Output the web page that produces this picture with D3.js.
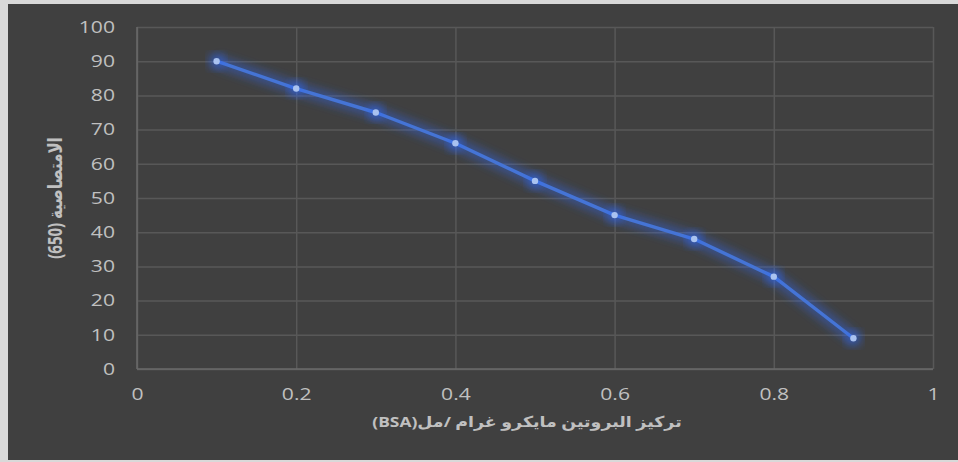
<!DOCTYPE html>
<html>
<head>
<meta charset="utf-8">
<script src="https://cdn.jsdelivr.net/npm/d3@7"></script>
<style>
  html, body { margin: 0; padding: 0; background: #d9d9d9; }
  svg { display: block; }
</style>
</head>
<body>
<svg id="chart" width="958" height="462"></svg>
<script>
// Protein concentration (µg/ml BSA) vs absorbance readings
const concentrations = [0.1, 0.2, 0.3, 0.4, 0.5, 0.6, 0.7, 0.8, 0.9];
const absorbance = [90, 82, 75, 66, 55, 45, 38, 27, 9];
const xTicks = [0, 0.2, 0.4, 0.6, 0.8, 1];
const yTicks = [0, 10, 20, 30, 40, 50, 60, 70, 80, 90, 100];
const xTitle = "تركيز البروتين مايكرو غرام /مل(BSA)";
const yTitle = "الامتصاصية (650)";

const W = 958, H = 462;
const svg = d3.select("#chart");

// chart background panel
svg.append("rect").attr("x", 0).attr("y", 0).attr("width", W).attr("height", H).attr("fill", "#d9d9d9");
svg.append("rect").attr("x", 8).attr("y", 4).attr("width", W - 8).attr("height", 456).attr("fill", "#404040");

const plot = { left: 137, right: 933, top: 27, bottom: 369 };
const x = d3.scaleLinear().domain([0, 1]).range([plot.left, plot.right]);
const y = d3.scaleLinear().domain([0, 100]).range([plot.bottom, plot.top]);

const defs = svg.append("defs");
const glow = defs.append("filter").attr("id", "glow")
  .attr("x", "-20%").attr("y", "-20%").attr("width", "140%").attr("height", "140%");
glow.append("feGaussianBlur").attr("stdDeviation", 5);

const gridColor = "#585858";
const textColor = "#c0c0c0";
const font = "'Open Sans', 'DejaVu Sans', sans-serif";
const stretch = 1.28; // wide letterforms of the labels

// horizontal gridlines + y tick labels
const yAxis = d3.axisLeft(y).tickValues(yTicks).tickSize(-(plot.right - plot.left)).tickPadding(22).tickFormat(d3.format("d"));
const gy = svg.append("g").attr("transform", `translate(${plot.left},0)`).call(yAxis);
gy.select(".domain").remove();
gy.selectAll(".tick line").attr("stroke", gridColor).attr("stroke-width", 1.5);
gy.selectAll(".tick text").attr("fill", textColor).attr("font-size", 16.5).attr("font-family", font)
  .attr("transform", `translate(-22,0) scale(${stretch},1) translate(22,0)`);

// vertical gridlines + x tick labels
const xAxis = d3.axisBottom(x).tickValues(xTicks).tickSize(-(plot.bottom - plot.top)).tickPadding(19).tickFormat(d => d3.format("")(d));
const gx = svg.append("g").attr("transform", `translate(0,${plot.bottom})`).call(xAxis);
gx.select(".domain").remove();
gx.selectAll(".tick line").attr("stroke", gridColor).attr("stroke-width", 1.5);
gx.selectAll(".tick text").attr("fill", textColor).attr("font-size", 16.5).attr("font-family", font)
  .attr("transform", `scale(${stretch},1)`);

// axis lines
svg.append("line").attr("x1", plot.left).attr("x2", plot.left).attr("y1", plot.top).attr("y2", plot.bottom)
  .attr("stroke", "#6a6a6a").attr("stroke-width", 1.5);
svg.append("line").attr("x1", plot.left).attr("x2", plot.right).attr("y1", plot.bottom).attr("y2", plot.bottom)
  .attr("stroke", "#6a6a6a").attr("stroke-width", 1.5);

const data = concentrations.map((c, i) => ({ c, a: absorbance[i] }));
const line = d3.line().x(d => x(d.c)).y(d => y(d.a));

// glow under the series line
svg.append("path").datum(data).attr("d", line).attr("fill", "none")
  .attr("stroke", "#2f6bff").attr("stroke-width", 12).attr("stroke-opacity", 0.4)
  .attr("stroke-linejoin", "round").attr("filter", "url(#glow)");
svg.append("path").datum(data).attr("d", line).attr("fill", "none")
  .attr("stroke", "#4574d6").attr("stroke-width", 3.4).attr("stroke-linejoin", "round");

// markers
svg.selectAll("circle.glowpt").data(data).enter().append("circle")
  .attr("cx", d => x(d.c)).attr("cy", d => y(d.a)).attr("r", 8)
  .attr("fill", "#2f6bff").attr("opacity", 0.5).attr("filter", "url(#glow)");
svg.selectAll("circle.pt").data(data).enter().append("circle")
  .attr("cx", d => x(d.c)).attr("cy", d => y(d.a)).attr("r", 3.2)
  .attr("fill", "#a9c2f0");

// axis titles
svg.append("text").attr("transform", `translate(527,427) scale(1.16,1)`).attr("text-anchor", "middle")
  .attr("fill", textColor).attr("font-size", 15).attr("font-weight", "bold").attr("font-family", font)
  .attr("direction", "rtl")
  .text(xTitle);
svg.append("text").attr("transform", "translate(62,198) scale(1.3,1) rotate(-90)").attr("text-anchor", "middle")
  .attr("fill", textColor).attr("font-size", 15).attr("font-weight", "bold").attr("font-family", font)
  .attr("direction", "rtl")
  .text(yTitle);
</script>
</body>
</html>
